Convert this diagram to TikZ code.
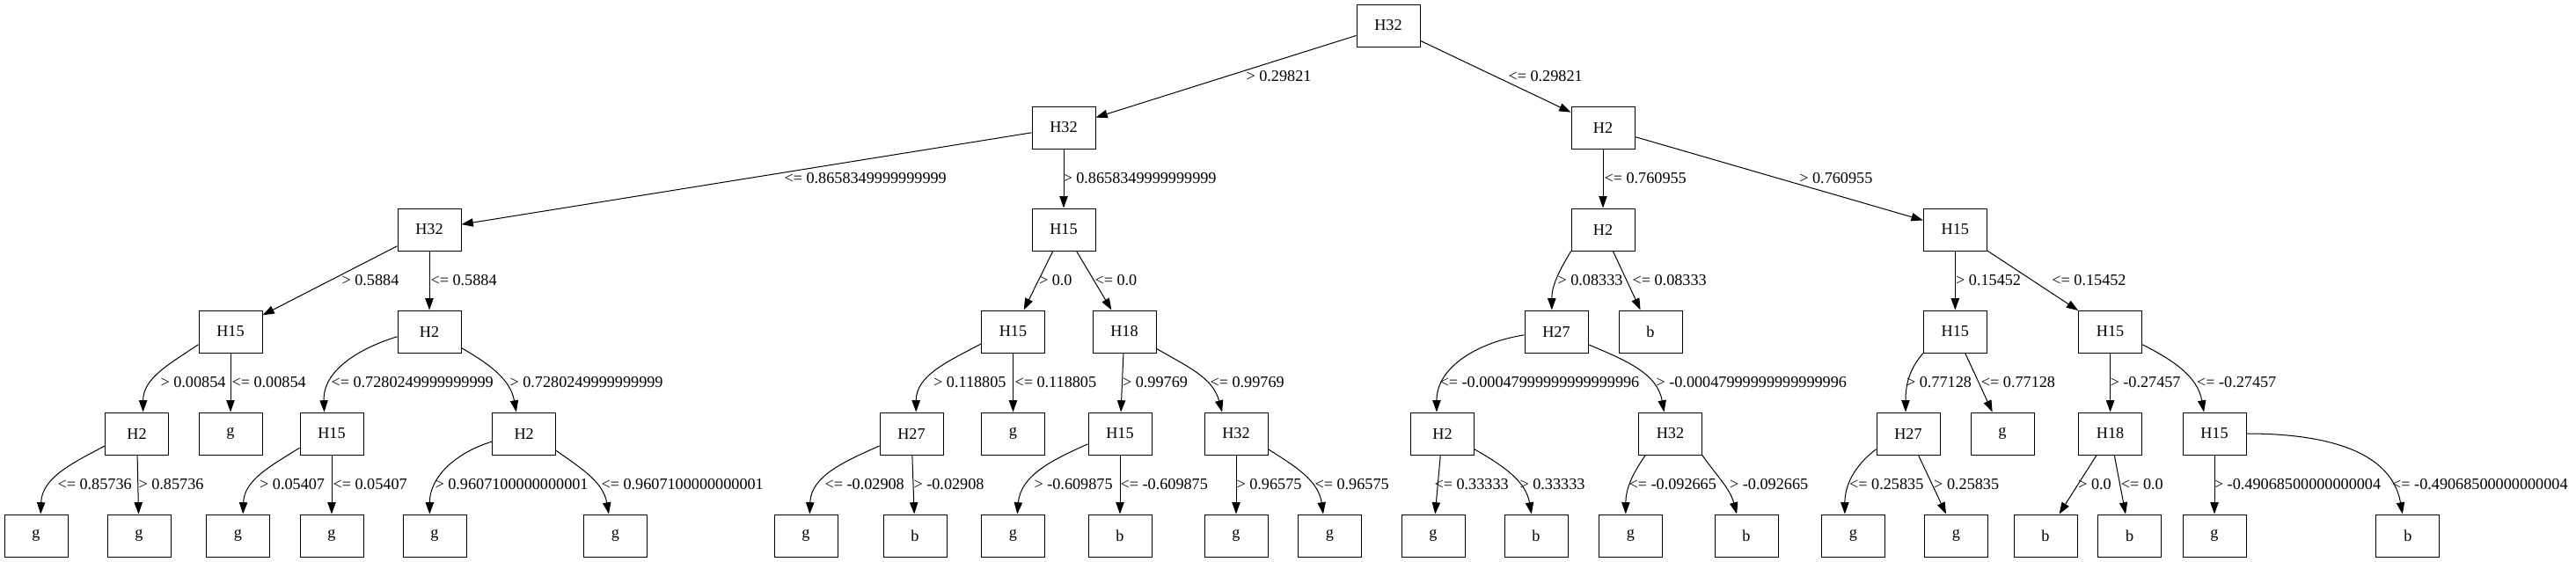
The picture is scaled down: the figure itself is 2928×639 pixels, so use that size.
\documentclass[tikz,border=0pt]{standalone}
\usepackage{fontspec}
\setmainfont{Liberation Serif}
\usetikzlibrary{arrows.meta}

\begin{document}
\begin{tikzpicture}[
	x=0.75pt, y=0.75pt,
	every node/.style={font=\fontsize{13.65}{16}\selectfont},
	split/.style={draw, line width=0.75pt, minimum width=54pt, minimum height=36pt, inner sep=0pt},
	leaf/.style={split},
	edge/.style={-{Triangle[length=10pt,width=7pt]}, line width=0.75pt},
	cond/.style={anchor=west, inner sep=0pt}
	]
	\useasboundingbox (0,0) rectangle (2928,-639);
	
	% level 0 - 2
	\node[split] (n) at (1578,-29) {H32};
	\node[split] (na) at (1209,-145) {H32};
	\node[split] (nb) at (1822,-145) {H2};
	\node[split] (naa) at (488,-261) {H32};
	\node[split] (nab) at (1209,-261) {H15};
	\node[split] (nba) at (1822,-261) {H2};
	\node[split] (nbb) at (2222.3,-261) {H15};
	
	% level 3
	\node[split] (naaa) at (262,-377) {H15};
	\node[split] (naab) at (488,-377) {H2};
	\node[split] (naba) at (1151.5,-377) {H15};
	\node[split] (nabb) at (1278,-377) {H18};
	\node[split] (nbaa) at (1769,-377) {H27};
	\node[leaf] (nbab) at (1876,-377) {b};
	\node[split] (nbba) at (2222.3,-377) {H15};
	\node[split] (nbbb) at (2398.6,-377) {H15};
	
	% level 4
	\node[split] (naaaa) at (155.6,-493) {H2};
	\node[leaf] (naaab) at (262,-493) {g};
	\node[split] (naaba) at (377,-493) {H15};
	\node[split] (naabb) at (595.7,-493) {H2};
	\node[split] (nabaa) at (1036,-493) {H27};
	\node[leaf] (nabab) at (1151.5,-493) {g};
	\node[split] (nabba) at (1273,-493) {H15};
	\node[split] (nabbb) at (1405,-493) {H32};
	\node[split] (nbaaa) at (1639.5,-493) {H2};
	\node[split] (nbaab) at (1898.5,-493) {H32};
	\node[split] (nbbaa) at (2169,-493) {H27};
	\node[leaf] (nbbab) at (2276,-493) {g};
	\node[split] (nbbba) at (2398.6,-493) {H18};
	\node[split] (nbbbb) at (2517,-493) {H15};
	
	% level 5
	\node[leaf] (naaaaa) at (41,-609) {g};
	\node[leaf] (naaaab) at (158,-609) {g};
	\node[leaf] (naabaa) at (270.5,-609) {g};
	\node[leaf] (naabab) at (377,-609) {g};
	\node[leaf] (naabba) at (494,-609) {g};
	\node[leaf] (naabbb) at (699.5,-609) {g};
	\node[leaf] (nabaaa) at (916,-609) {g};
	\node[leaf] (nabaab) at (1040,-609) {b};
	\node[leaf] (nabbaa) at (1151.5,-609) {g};
	\node[leaf] (nabbab) at (1273,-609) {b};
	\node[leaf] (nabbba) at (1405,-609) {g};
	\node[leaf] (nabbbb) at (1511.5,-609) {g};
	\node[leaf] (nbaaaa) at (1629,-609) {g};
	\node[leaf] (nbaaab) at (1746,-609) {b};
	\node[leaf] (nbaaba) at (1853.5,-609) {g};
	\node[leaf] (nbaabb) at (1985,-609) {b};
	\node[leaf] (nbbaaa) at (2106.3,-609) {g};
	\node[leaf] (nbbaab) at (2223.5,-609) {g};
	\node[leaf] (nbbbaa) at (2325,-609) {b};
	\node[leaf] (nbbbab) at (2420.7,-609) {b};
	\node[leaf] (nbbbba) at (2517,-609) {g};
	\node[leaf] (nbbbbb) at (2736.9,-609) {b};
	
	% edges 0 -> 2
	\draw[edge] (n) -- (na) node[cond] at (1416,-87) {> 0.29821};
	\draw[edge] (n) -- (nb) node[cond] at (1714,-87) {<= 0.29821};
	\draw[edge] (na) -- (naa) node[cond] at (891,-203) {<= 0.8658349999999999};
	\draw[edge] (na) -- (nab) node[cond] at (1208,-203) {> 0.8658349999999999};
	\draw[edge] (nb) -- (nba) node[cond] at (1823,-203) {<= 0.760955};
	\draw[edge] (nb) -- (nbb) node[cond] at (2044.8,-203) {> 0.760955};
	
	% edges 2 -> 3
	\draw[edge] (naa) -- (naaa) node[cond] at (388,-319) {> 0.5884};
	\draw[edge] (naa) -- (naab) node[cond] at (489,-319) {<= 0.5884};
	\draw[edge] (nab) -- (naba) node[cond] at (1180.5,-319) {> 0.0};
	\draw[edge] (nab) -- (nabb) node[cond] at (1244,-319) {<= 0.0};
	\draw[edge] (nba.214) to[out=239, in=90] (nbaa.102) node[cond] at (1770,-319) {> 0.08333};
	\draw[edge] (nba) -- (nbab) node[cond] at (1855,-319) {<= 0.08333};
	\draw[edge] (nbb) -- (nbba) node[cond] at (2222.6,-319) {> 0.15452};
	\draw[edge] (nbb) -- (nbbb) node[cond] at (2331.8,-319) {<= 0.15452};
	
	% edges 3 -> 4
	\draw[edge] (naaa.202) to[out=214, in=90] (naaaa.74) node[cond] at (182,-435) {> 0.00854};
	\draw[edge] (naaa) -- (naaab) node[cond] at (263,-435) {<= 0.00854};
	\draw[edge] (naab.189) to[out=197, in=92] (naaba.109) node[cond] at (376,-435) {<= 0.7280249999999999};
	\draw[edge] (naab.333) to[out=330, in=100] (naabb.110) node[cond] at (579,-435) {> 0.7280249999999999};
	\draw[edge] (naba.201) to[out=208, in=90] (nabaa.78) node[cond] at (1060.6,-435) {> 0.118805};
	\draw[edge] (naba) -- (nabab) node[cond] at (1153,-435) {<= 0.118805};
	\draw[edge] (nabb) -- (nabba) node[cond] at (1275.5,-435) {> 0.99769};
	\draw[edge] (nabb.332) to[out=330, in=105] (nabbb.123) node[cond] at (1375,-435) {<= 0.99769};
	\draw[edge] (nbaa.186) to[out=189, in=90] (nbaaa.105) node[cond] at (1636,-435) {<= -0.00047999999999999996};
	\draw[edge] (nbaa.338) to[out=337, in=100] (nbaab.106) node[cond] at (1882,-435) {> -0.00047999999999999996};
	\draw[edge] (nbba.214) to[out=229, in=90] (nbbaa.97) node[cond] at (2166.5,-435) {> 0.77128};
	\draw[edge] (nbba) -- (nbbab) node[cond] at (2251.3,-435) {<= 0.77128};
	\draw[edge] (nbbb) -- (nbbba) node[cond] at (2398,-435) {> -0.27457};
	\draw[edge] (nbbb.338) to[out=333, in=100] (nbbbb.116) node[cond] at (2496.5,-435) {<= -0.27457};
	
	% edges 4 -> 5
	\draw[edge] (naaaa.201) to[out=208, in=88] (naaaaa.78) node[cond] at (65,-551) {<= 0.85736};
	\draw[edge] (naaaa) -- (naaaab) node[cond] at (157,-551) {> 0.85736};
	\draw[edge] (naaba.204) to[out=212, in=88] (naabaa.77) node[cond] at (294.6,-551) {> 0.05407};
	\draw[edge] (naaba) -- (naabab) node[cond] at (378,-551) {<= 0.05407};
	\draw[edge] (naabb.194) to[out=197, in=90] (naabba.103) node[cond] at (494,-551) {> 0.9607100000000001};
	\draw[edge] (naabb.332) to[out=325, in=100] (naabbb.107) node[cond] at (683,-551) {<= 0.9607100000000001};
	\draw[edge] (nabaa.201) to[out=204, in=88] (nabaaa.80) node[cond] at (937,-551) {<= -0.02908};
	\draw[edge] (nabaa) -- (nabaab) node[cond] at (1038,-551) {> -0.02908};
	\draw[edge] (nabba.198) to[out=204, in=85] (nabbaa.79) node[cond] at (1175,-551) {> -0.609875};
	\draw[edge] (nabba) -- (nabbab) node[cond] at (1273,-551) {<= -0.609875};
	\draw[edge] (nabbb) -- (nabbba) node[cond] at (1405,-551) {> 0.96575};
	\draw[edge] (nabbb.334) to[out=328, in=98] (nabbbb.107) node[cond] at (1494,-551) {<= 0.96575};
	\draw[edge] (nbaaa) -- (nbaaaa) node[cond] at (1630,-551) {<= 0.33333};
	\draw[edge] (nbaaa.334) to[out=330, in=100] (nbaaab.102) node[cond] at (1727,-551) {> 0.33333};
	\draw[edge] (nbaab.221) to[out=235, in=90] (nbaaba.103) node[cond] at (1851,-551) {<= -0.092665};
	\draw[edge] (nbaab.326) to[out=305, in=105] (nbaabb.114) node[cond] at (1965.6,-551) {> -0.092665};
	\draw[edge] (nbbaa.206) to[out=217, in=90] (nbbaaa.111) node[cond] at (2101.6,-551) {<= 0.25835};
	\draw[edge] (nbbaa) -- (nbbaab) node[cond] at (2197.7,-551) {> 0.25835};
	\draw[edge] (nbbba) -- (nbbbaa) node[cond] at (2361.7,-551) {> 0.0};
	\draw[edge] (nbbba) -- (nbbbab) node[cond] at (2410.4,-551) {<= 0.0};
	\draw[edge] (nbbbb) -- (nbbbba) node[cond] at (2516.4,-551) {> -0.49068500000000004};
	\draw[edge] (nbbbb.0) to[out=0, in=100] (nbbbbb.104) node[cond] at (2718.6,-551) {<= -0.49068500000000004};
	
\end{tikzpicture}
\end{document}
